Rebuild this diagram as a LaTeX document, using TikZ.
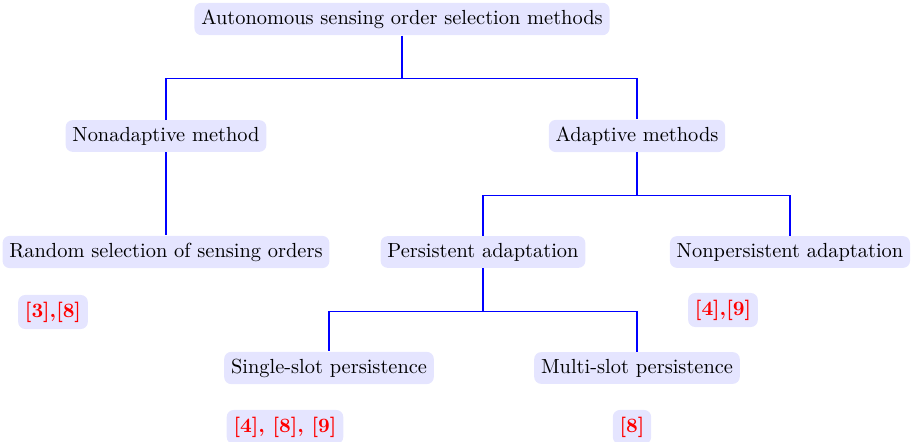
\documentclass[tikz,border=0pt]{standalone}
\usepackage{tikz}
\usetikzlibrary{positioning,calc}

\begin{document}
\begin{tikzpicture}[x=0.49pt,y=-0.49pt]
  \tikzset{method/.style={fill=blue!10,rounded corners=1.2mm,align=center},
    cite/.style={method,text=red,font=\bfseries},
    link/.style={draw=blue,semithick}}
  \useasboundingbox (0,0) rectangle (912,442);
  \node[method] (root) at (402,19) {Autonomous sensing order selection methods};
  \node[method] (nonadaptive) at (166,136) {Nonadaptive method};
  \node[method] (adaptive) at (637,136) {Adaptive methods};
  \node[method] (random) at (166,252) {Random selection of sensing orders};
  \node[method] (persistent) at (483,252) {Persistent adaptation};
  \node[method] (nonpersistent) at (790,252) {Nonpersistent adaptation};
  \node[method] (single) at (329,368) {Single-slot persistence};
  \node[method] (multi) at (637,368) {Multi-slot persistence};
  \node[cite] (citerandom) at (53,312) {[3],[8]};
  \node[cite] (citenonpers) at (723,310) {[4],[9]};
  \node[cite] (citesingle) at (285,427) {[4], [8], [9]};
  \node[cite] (citemulti) at (632,427) {[8]};
  % tree connectors
  \draw[link] (root.south) -- ++(0,43) -| (nonadaptive.north);
  \draw[link] (root.south) ++(0,43) -| (adaptive.north);
  \draw[link] (nonadaptive) -- (random);
  \draw[link] (adaptive.south) -- ++(0,43) -| (persistent.north);
  \draw[link] (adaptive.south) ++(0,43) -| (nonpersistent.north);
  \draw[link] (persistent.south) -- ++(0,43) -| (single.north);
  \draw[link] (persistent.south) ++(0,43) -| (multi.north);
\end{tikzpicture}
\end{document}
